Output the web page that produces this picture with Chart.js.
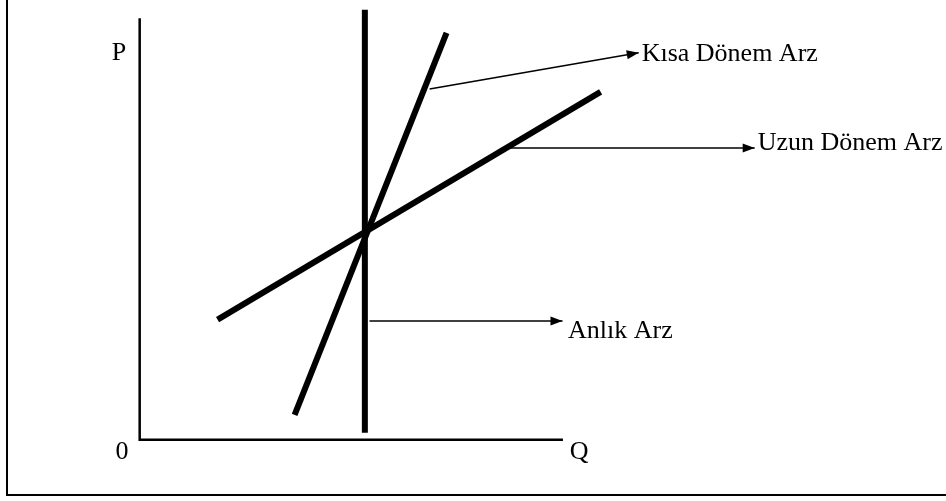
<!DOCTYPE html>
<html>
<head>
<meta charset="utf-8">
<script src="https://cdn.jsdelivr.net/npm/chart.js@4/dist/chart.umd.min.js"></script>
<style>
  html, body { margin: 0; padding: 0; background: #fff; }
  #wrap { position: relative; width: 946px; height: 501px; overflow: hidden; }
  #frame { position: absolute; left: 6px; top: -4px; width: 960px; height: 500px; border: 2px solid #000; box-sizing: border-box; }
  canvas { position: absolute; left: 0; top: 0; }
</style>
</head>
<body>
<div id="wrap">
  <div id="frame"></div>
  <canvas id="supplyChart" width="946" height="501"></canvas>
</div>
<script>
"use strict";

// Eksen uçları (Q, P)
const axisQ = [0, 0, 10];
const axisP = [10, 0, 0];

// Arz eğrileri
const anlikQ = [5.32, 5.32];
const anlikP = [0.17, 10.2];
const kisaQ = [3.66, 7.25];
const kisaP = [0.59, 9.65];
const uzunQ = [1.84, 10.89];
const uzunP = [2.85, 8.25];

// Açıklama okları: başlangıç ve uç
const arrowFromQ = [6.85, 8.74, 5.43];
const arrowFromP = [8.32, 6.92, 2.82];
const arrowToQ = [11.79, 14.53, 9.99];
const arrowToP = [9.18, 6.92, 2.82];

// Açıklama metinleri ve yerleri
const arrowLabels = ["Kısa Dönem Arz", "Uzun Dönem Arz", "Anlık Arz"];
const arrowLabelQ = [11.86, 14.6, 10.12];
const arrowLabelP = [8.98, 6.88, 2.41];

// Eksen yazıları
const axisLabels = ["P", "0", "Q"];
const axisLabelQ = [-0.66, -0.57, 10.16];
const axisLabelP = [9.0, -0.45, -0.45];

const zip = (xs, ys) => xs.map((x, i) => ({ x: x, y: ys[i] }));

const line = (data, width) => ({
    data: data,
    showLine: true,
    borderColor: "#000",
    borderWidth: width,
    borderCapStyle: "butt",
    pointRadius: 0,
    fill: false
});

const arrowDatasets = arrowFromQ.map((q, i) =>
    line(zip([q, arrowToQ[i]], [arrowFromP[i], arrowToP[i]]), 1.6));

/**
 * Ok uçlarını ve yazıları çizer.
 */
const annotate = {
    id: "annotate",
    afterDatasetsDraw(chart) {
        const { ctx, scales: { x, y } } = chart;
        ctx.save();
        ctx.fillStyle = "#000";
        arrowFromQ.forEach((q, i) => {
            const x0 = x.getPixelForValue(q), y0 = y.getPixelForValue(arrowFromP[i]);
            const x1 = x.getPixelForValue(arrowToQ[i]), y1 = y.getPixelForValue(arrowToP[i]);
            const a = Math.atan2(y1 - y0, x1 - x0);
            const len = 12, half = 4.5;
            ctx.beginPath();
            ctx.moveTo(x1, y1);
            ctx.lineTo(x1 - len * Math.cos(a) + half * Math.sin(a), y1 - len * Math.sin(a) - half * Math.cos(a));
            ctx.lineTo(x1 - len * Math.cos(a) - half * Math.sin(a), y1 - len * Math.sin(a) + half * Math.cos(a));
            ctx.closePath();
            ctx.fill();
        });

        ctx.font = "26px 'Liberation Serif'";
        ctx.textBaseline = "alphabetic";
        ctx.textAlign = "left";
        arrowLabels.forEach((t, i) => {
            ctx.fillText(t, x.getPixelForValue(arrowLabelQ[i]), y.getPixelForValue(arrowLabelP[i]));
        });
        axisLabels.forEach((t, i) => {
            ctx.fillText(t, x.getPixelForValue(axisLabelQ[i]), y.getPixelForValue(axisLabelP[i]));
        });
        ctx.restore();
    }
};

new Chart(document.getElementById("supplyChart"), {
    type: "scatter",
    data: {
        datasets: [
            line(zip(axisQ, axisP), 2.5),
            line(zip(anlikQ, anlikP), 6),
            line(zip(kisaQ, kisaP), 6),
            line(zip(uzunQ, uzunP), 6),
            ...arrowDatasets
        ]
    },
    options: {
        responsive: false,
        animation: false,
        events: [],
        layout: { padding: 0 },
        plugins: {
            legend: { display: false },
            tooltip: { enabled: false }
        },
        scales: {
            x: { type: "linear", display: false, min: -3.3, max: 19.05 },
            y: { type: "linear", display: false, min: -1.45, max: 10.43 }
        }
    },
    plugins: [annotate]
});
</script>
</body>
</html>
